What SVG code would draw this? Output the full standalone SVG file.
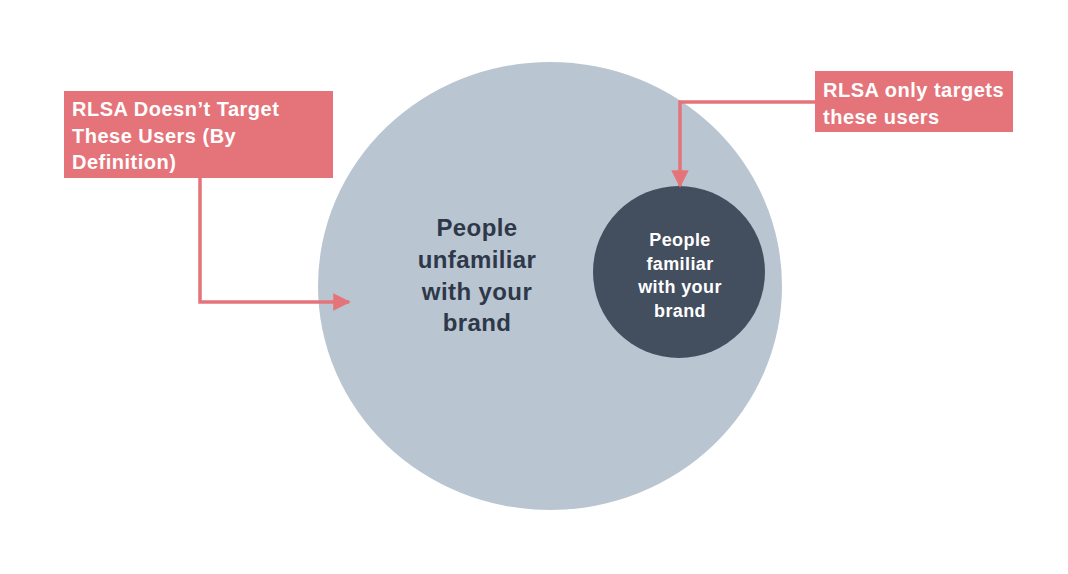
<svg xmlns="http://www.w3.org/2000/svg" width="1068" height="574" viewBox="0 0 1068 574">
<defs>
<style>
.box{fill:#E5747A}
.lbl{font-family:"Liberation Sans",Arial,sans-serif;font-weight:bold;fill:#ffffff;font-size:20px;letter-spacing:0.5px}
.conn{fill:none;stroke:#E5747A;stroke-width:3.5}
.big{font-family:"Liberation Sans",Arial,sans-serif;font-weight:bold;fill:#2E3849;font-size:24px;letter-spacing:0.4px;text-anchor:middle}
.small{font-family:"Liberation Sans",Arial,sans-serif;font-weight:bold;fill:#ffffff;font-size:18px;letter-spacing:0.4px;text-anchor:middle}
</style>
<marker id="arr" viewBox="0 0 10 10" refX="9" refY="5" markerWidth="5" markerHeight="5" markerUnits="strokeWidth" orient="auto">
<path d="M0,0 L10,5 L0,10 z" fill="#E5747A"/>
</marker>
</defs>
<rect width="1068" height="574" fill="#ffffff"/>
<g id="unfamiliar">
<ellipse cx="550" cy="286" rx="232" ry="224" fill="#B9C5D1"/>
<text class="big"><tspan x="477" y="236">People</tspan><tspan x="477" y="268">unfamiliar</tspan><tspan x="477" y="300">with your</tspan><tspan x="477" y="331">brand</tspan></text>
</g>
<g id="familiar">
<circle cx="679" cy="272" r="86" fill="#434E5E"/>
<text class="small"><tspan x="680" y="246">People</tspan><tspan x="680" y="270">familiar</tspan><tspan x="680" y="293">with your</tspan><tspan x="680" y="317">brand</tspan></text>
</g>
<g id="label-left">
<rect class="box" x="64" y="91" width="269" height="87"/>
<text class="lbl"><tspan x="72" y="116">RLSA Doesn’t Target</tspan><tspan x="72" y="143">These Users (By</tspan><tspan x="72" y="169">Definition)</tspan></text>
</g>
<g id="label-right">
<rect class="box" x="815" y="71" width="198" height="61"/>
<text class="lbl"><tspan x="823" y="97">RLSA only targets</tspan><tspan x="823" y="124">these users</tspan></text>
</g>
<g id="connectors">
<path class="conn" d="M200,178 L200,302 L349,302" marker-end="url(#arr)"/>
<path class="conn" d="M815,102 L680,102 L680,186" marker-end="url(#arr)"/>
</g>
</svg>
